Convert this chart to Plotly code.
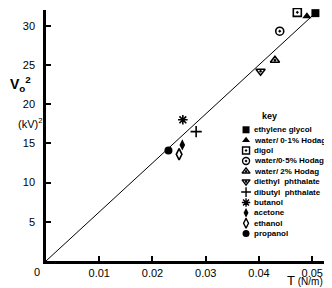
import plotly.graph_objects as go

# ---- data ----
liquids = ["ethylene glycol", "water/ 0·1% Hodag", "digol", "water/0·5% Hodag",
           "water/ 2% Hodag", "diethyl  phthalate", "dibutyl  phthalate",
           "butanol", "acetone", "ethanol", "propanol"]
T_vals = [0.0506, 0.0490, 0.0472, 0.0439, 0.0430, 0.0403, 0.0282,
          0.0257, 0.0256, 0.0250, 0.0230]
V2_vals = [31.6, 31.2, 31.7, 29.3, 25.6, 24.2, 16.5,
           18.0, 14.8, 13.6, 14.1]
symbols = ["square", "triangle-up", "square-open-dot", "circle-open-dot",
           "triangle-up-open-dot", "triangle-down-open-dot", "cross-thin-open",
           "asterisk-open", "diamond-tall", "diamond-tall-open", "circle"]
fit_T = [0.0, 0.0524]
fit_V2 = [0.0, 32.75]
x_ticks = [0.01, 0.02, 0.03, 0.04, 0.05]
x_tick_text = ["0.01", "0.02", "0.03", "0.04", "0.05"]
y_ticks = [5, 10, 15, 20, 25, 30]
legend_rows = list(range(len(liquids)))

FONT = "Liberation Sans"
fig = go.Figure()

fig.add_trace(go.Scatter(x=fit_T, y=fit_V2, mode="lines",
                         line=dict(color="black", width=1), showlegend=False,
                         hoverinfo="skip"))

for name, t, v, s in zip(liquids, T_vals, V2_vals, symbols):
    lw = 1.6 if "open" in s else 0
    fig.add_trace(go.Scatter(x=[t], y=[v], mode="markers", name=name,
                             marker=dict(symbol=s, size=8, color="black",
                                         line=dict(color="black", width=lw)),
                             showlegend=False, cliponaxis=False))

# custom key (legend) drawn on an auxiliary axis
leg_x = [0.717] * len(liquids)
for i, (name, s) in enumerate(zip(liquids, symbols)):
    lw = 1.4 if "open" in s else 0
    fig.add_trace(go.Scatter(x=[leg_x[i]], y=[legend_rows[i]], mode="markers",
                             xaxis="x2", yaxis="y2", showlegend=False,
                             marker=dict(symbol=s, size=7, color="black",
                                         line=dict(color="black", width=lw))))
    fig.add_annotation(x=0.74, y=legend_rows[i], xref="x2", yref="y2",
                       text=name, showarrow=False, xanchor="left", yanchor="middle",
                       font=dict(family=FONT, size=8, color="black", weight="bold"))
fig.add_annotation(x=0.80, y=-1.35, xref="x2", yref="y2", text="key",
                   showarrow=False, xanchor="center", yanchor="middle",
                   font=dict(family=FONT, size=9, color="black", weight="bold"))

# axis labels
fig.add_annotation(x=0, y=0, xref="x", yref="y", text="0", showarrow=False,
                   xanchor="center", yanchor="top", xshift=-9, yshift=-3,
                   font=dict(family=FONT, size=11, color="black"))
fig.add_annotation(x=-0.136, y=22.6, xref="paper", yref="y", text="V<sub>o</sub><sup>2</sup>",
                   showarrow=False, xanchor="left", yanchor="middle",
                   font=dict(family=FONT, size=14, color="black", weight="bold"))
fig.add_annotation(x=-0.057, y=17.6, xref="paper", yref="y", text="(kV)<sup>2</sup>",
                   showarrow=False, xanchor="center", yanchor="middle",
                   font=dict(family=FONT, size=11, color="black"))
fig.add_annotation(x=0.0486, y=0, xref="x", yref="y",
                   text="T<span style='font-size:10px'> (N/m)</span>",
                   showarrow=False, xanchor="center", yanchor="middle", yshift=-19,
                   font=dict(family=FONT, size=13, color="black"))

# page body has an 8px default margin: figure is offset by 8px in the window
fig.update_layout(
    width=324, height=288,
    margin=dict(l=38, r=7, t=2, b=34.5, autoexpand=False),
    paper_bgcolor="white", plot_bgcolor="white",
    showlegend=False,
    xaxis=dict(range=[0, 0.0524], tickvals=x_ticks, ticktext=x_tick_text,
               ticks="inside", ticklen=5, tickwidth=2, tickcolor="black",
               showline=True, linecolor="black", linewidth=2.5,
               showgrid=False, zeroline=False, automargin=False,
               tickfont=dict(family=FONT, size=11, color="black")),
    yaxis=dict(range=[0, 32], tickvals=y_ticks,
               ticks="inside", ticklen=5, tickwidth=2, tickcolor="black",
               showline=True, linecolor="black", linewidth=2.5,
               showgrid=False, zeroline=False, automargin=False,
               ticklabelstandoff=6,
               tickfont=dict(family=FONT, size=11, color="black")),
    xaxis2=dict(range=[0, 1], overlaying="x", visible=False),
    yaxis2=dict(range=[12.64, -11.54], overlaying="y", visible=False),
)

fig.write_html("out.html")
